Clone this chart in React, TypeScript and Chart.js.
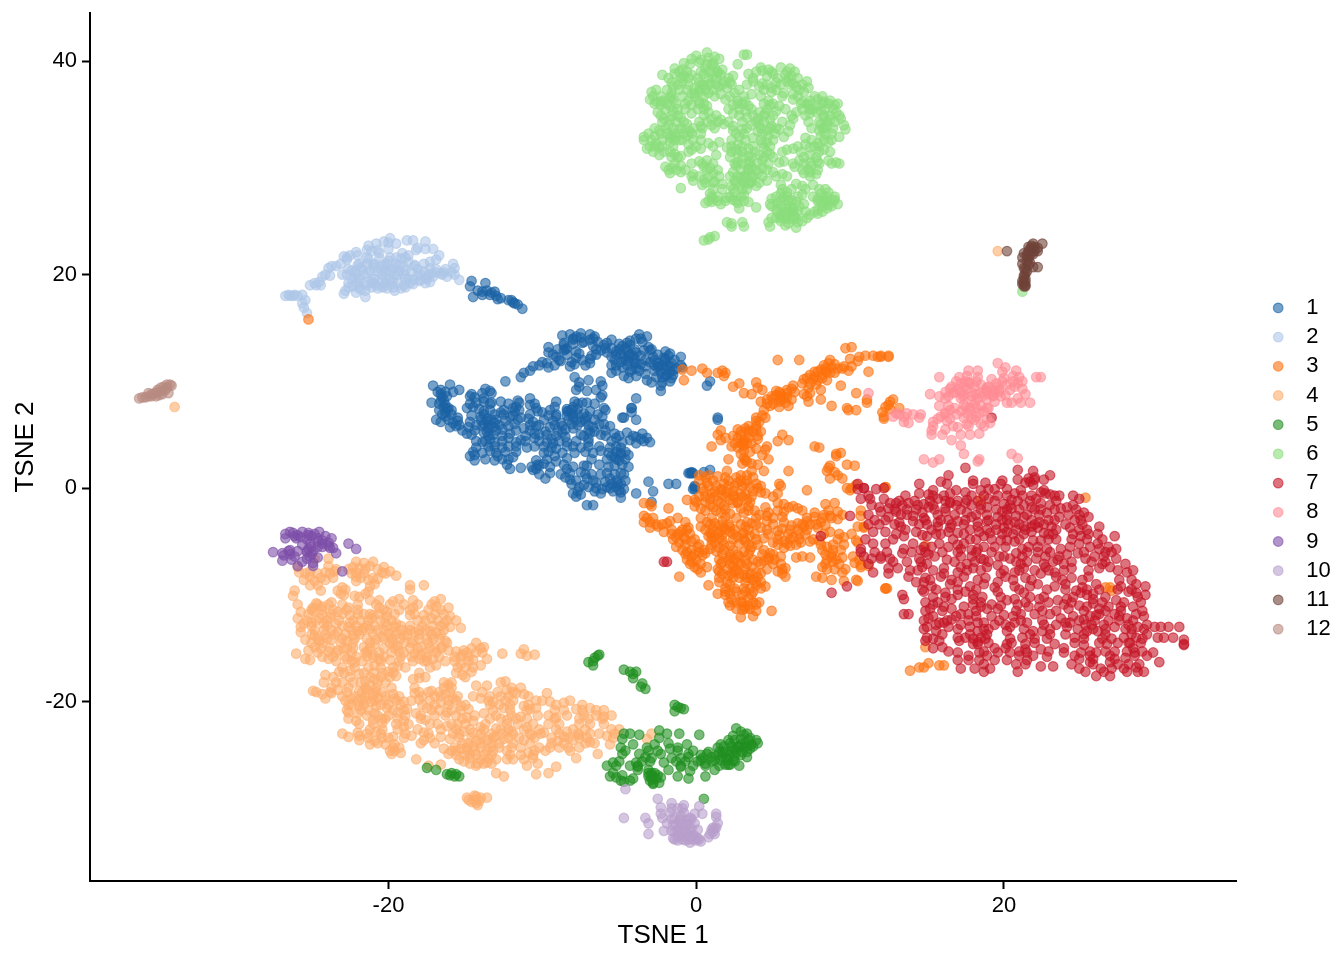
import { useEffect, useRef } from "react"
import { Chart, registerables } from "chart.js"

Chart.register(...registerables)

const clusterNames = ["1", "2", "3", "4", "5", "6", "7", "8", "9", "10", "11", "12"]
const clusterColors = ["27,98,165", "174,198,232", "253,113,14", "254,174,108", "31,143,31", "138,221,124", "197,21,39", "255,140,148", "125,79,168", "184,159,204", "111,66,56", "184,139,128"]

const c1 = [[-8.7,14.3],[-8.2,14.4],[-7.8,14.2],[-7.5,14.5],[-6.9,14.4],[-6.6,14.2],[-3.7,14.4],[-3.2,14.2],[-8,13.9],[-7.3,13.7],[-6.7,14],[-5.5,13.9],[-4.3,13.8],[-3.9,14],[-9.6,13.2],[-8.6,13.4],[-8.4,13.1],[-6.7,13.3],[-6,13.4],[-5.5,13.1],[-4.8,13.3],[-4.3,13.4],[-3.1,13.2],[-9.6,12.7],[-8.6,12.9],[-7.8,12.8],[-6.2,12.9],[-5.8,12.7],[-5.2,12.8],[-4.5,12.9],[-3.9,12.7],[-3,12.9],[-2,12.8],[-1.7,12.6],[-9.1,12.3],[-7.8,12.2],[-6.8,12.4],[-5.5,12.3],[-4.7,12.2],[-4.1,12.4],[-2.8,12.3],[-2.1,12.2],[-1,12.3],[-10,11.8],[-9.7,11.7],[-8.8,11.9],[-8.1,11.8],[-6.9,11.7],[-4.9,11.8],[-4.4,11.9],[-3.9,11.7],[-3,11.8],[-2.5,11.7],[-2,11.9],[-1.6,11.7],[-10.6,11.4],[-9.6,11.3],[-8.2,11.4],[-5.5,11.5],[-4.8,11.3],[-3.9,11.2],[-3.3,11.4],[-2.5,11.3],[-1.9,11.4],[-1.3,11.2],[-0.9,11.3],[-11.2,10.8],[-5.5,10.8],[-4.3,10.9],[-3.3,10.7],[-2.3,10.8],[-1.7,10.9],[-11.4,10.4],[-7.9,10.4],[-4.4,10.3],[-2.2,10.4],[-1.6,10.3],[-12.4,10],[-7,10.1],[-7.6,9.9],[-6.2,10],[-3.2,10.1],[-1.7,10],[-17.1,9.6],[-16,9.7],[-6.1,9.6],[-7.6,9.5],[-2.3,9.6],[-16.6,9.2],[-15.4,9.2],[-13.7,9.3],[-7.8,9.2],[-7.1,9.1],[-6.5,9.2],[-15.8,9],[-2.3,9.1],[-16.6,8.8],[-14.6,8.8],[-13.3,8.9],[-6.1,8.7],[-14.7,8.6],[-6.2,8.5],[-3.9,8.4],[-10.8,8.4],[-17.2,8],[-16.6,8.2],[-13.8,8.1],[-13.3,8],[-12.7,8.1],[-11.6,8.2],[-10.5,7.9],[-9.1,8.1],[-7.9,8.1],[-7.1,8],[-16.4,7.6],[-16.1,7.5],[-14.9,7.5],[-14.5,7.6],[-11.9,7.5],[-11.7,7.6],[-10.4,7.5],[-9.2,7.6],[-8.4,7.4],[-8,7.6],[-6,7.5],[-4.2,7.5],[-16.3,7.1],[-13.8,7.2],[-12.7,7.1],[-11.8,7.2],[-10,7.1],[-8.4,7.2],[-7.3,7],[-16.3,6.7],[-15.5,6.6],[-14,6.7],[-12.1,6.7],[-11.4,6.6],[-9.6,6.8],[-9.1,6.7],[-8,6.6],[-6.1,6.7],[-4.7,6.6],[-3.9,6.4],[-16.6,6.2],[-15.8,6.1],[-14.7,6.2],[-13.6,6.3],[-13.1,6.1],[-10.6,6.2],[-8.8,6.1],[-7.5,6.2],[-7.2,6.3],[-6.3,6],[-16,5.7],[-15.6,5.8],[-14.8,5.7],[-13.9,5.8],[-13.2,5.7],[-12.2,5.8],[-11.2,5.6],[-10.4,5.8],[-9.5,5.7],[-8.7,5.8],[-8,5.6],[-6.7,5.7],[-5.6,5.8],[-14.9,5.1],[-14.6,5],[-13.8,5.2],[-13.2,5],[-12.1,5.1],[-10.5,5.1],[-9.7,5],[-8.7,5.2],[-7.5,5],[-6.9,5.2],[-6.2,5],[-5.3,5.1],[-4.5,5.2],[-4.1,4.9],[-3.5,5.1],[-13.4,4.6],[-12.2,4.7],[-11.4,4.5],[-10.5,4.7],[-9.4,4.6],[-7,4.6],[-5.2,4.7],[-3.6,4.6],[-3.2,4.7],[-13.9,4.3],[-11.7,4.3],[-9.3,4.2],[-8.4,4.3],[-4.8,4.3],[-3.9,4.2],[-3,4.3],[-14.3,3.8],[-13.5,3.9],[-12.6,3.8],[-11.7,3.9],[-11,3.8],[-9.9,3.9],[-9.4,3.8],[-8.4,3.9],[-7.5,3.8],[-6.3,3.9],[-5.6,3.8],[-14.5,3.4],[-13.4,3.5],[-11.7,3.4],[-9.9,3.3],[-7.2,3.4],[-6.2,3.5],[-5.2,3.4],[-14.7,3],[-14.4,3.1],[-12.9,3],[-11.9,2.9],[-9.2,3],[-5.5,3],[-4.4,3.1],[-14.4,2.6],[-13.1,2.6],[-12.6,2.7],[-10.4,2.6],[-9.1,2.5],[-5.2,2.7],[-12.3,2.2],[-10.3,2.2],[-9.9,2.3],[-8.6,2.2],[-7.3,2.1],[-6.3,2.2],[-4.8,2.2],[-12.1,1.8],[-11.4,1.9],[-10.6,1.7],[-10.4,1.8],[-8.4,1.8],[-9.5,1.4],[-8.2,1.4],[-7.5,1.5],[-6.8,1.3],[-5.8,1.4],[-4.7,1.3],[-9.8,0.9],[-8.5,1],[-8.2,0.8],[-7.1,0.9],[-5.6,0.9],[-8.1,0.4],[-7.3,0.3],[-6.5,0.5],[-5.5,0.4],[-4.9,0.4],[-6.1,-0.1],[-5.6,0],[-4.7,-0.1],[-8,-0.5],[-7.5,-0.6],[-6.2,-0.5],[-4.9,-0.4],[-3.9,-0.5],[-7.8,-0.8],[-4.9,-0.9],[-7.1,-1.6],[-6.7,-1.6],[-13.3,6.4],[-13.5,5.9],[-8,6.9],[-8.3,7.2],[-4.9,3.1],[-5.3,2.9],[-16.4,8.2],[-16.2,7.4],[-4,11.7],[-4.4,12.4],[-2.4,11.4],[-1.9,10.6],[-5.1,0.5],[-10.2,2.1],[-3.1,0.6],[-2.8,-0.3],[-1.8,0.4],[-1.3,0.4],[-0.5,1.4],[-0.3,1.4],[-0.1,0.1],[-0.1,-0.1],[-2.9,-1.3],[-4.8,6.6],[-4.2,7.5],[-4.2,7.1],[-14.6,19.4],[-14.7,18.9],[-14.5,17.9],[-13.7,19.2],[-14.2,18.5],[-13.9,18.4],[-13.6,18.5],[-13.3,18.3],[-13.1,18.4],[-13,18],[-12.9,17.7],[-12.7,17.8],[-13.4,18.1],[-13.9,18.1],[-12.2,17.6],[-12,17.6],[-11.8,17.3],[-11.6,17.2],[-11.3,16.8],[-11.9,17.4],[1.4,6.6],[1.4,6.4],[0.7,9.6],[0.9,10],[-0.4,1.4],[-0.3,1.5],[-0.2,1.4],[0.9,1.7],[0.5,1.5],[-0.1,0.2],[-0.2,-0.1],
  [-8,14],[-7.5,14.1],[-6.9,13.9],[-3.6,14],[-8.6,13.6],[-8,13.5],[-7.4,13.6],[-6.4,13.7],[-5.8,13.6],[-5,13.5],[-4.5,13.6],[-3.5,13.7],[-9,13],[-8.5,13],[-6.5,13],[-5.9,13.1],[-5,13],[-4.6,13.1],[-4,13],[-3.4,12.9],[-2.9,13],[-9.3,12.5],[-8.4,12.5],[-7.6,12.6],[-6.5,12.5],[-5.2,12.5],[-4.9,12.6],[-4.3,12.5],[-3.6,12.4],[-2.5,12.5],[-1.8,12.4],[-8.9,12],[-7.4,12],[-6.9,12.1],[-5.3,12],[-4.6,12],[-4,12.1],[-3.3,12],[-2.7,12],[-2,12.1],[-1.4,12],[-10.2,11.5],[-9.2,11.5],[-7.9,11.6],[-7.2,11.5],[-5.2,11.5],[-4.5,11.5],[-3.6,11.6],[-2.7,11.5],[-2.2,11.5],[-1.7,11.4],[-1,11.5],[-10.8,11],[-5.2,11],[-4.2,11.1],[-3.7,11],[-2.7,11],[-2,11.1],[-1.5,11],[-4.7,10.5],[-3.9,10.5],[-2.6,10.4],[-2,10.5],[-1.5,10.6],[-2.2,9.9],[-2.9,9.9],[-16.8,9],[-16.3,9],[-13.9,8.9],[-13.4,9.1],[-16.5,8.5],[-16.2,8.6],[-14.4,8.5],[-13.8,8.4],[-16.7,7.9],[-16.3,7.8],[-14.7,7.9],[-14.3,8],[-13.4,7.9],[-12.2,7.9],[-11.5,8],[-10.8,7.8],[-7.7,7.9],[-7.4,8],[-6.6,7.9],[-16.7,7.3],[-15.9,7.3],[-14.1,7.4],[-13.4,7.3],[-12.5,7.3],[-11.5,7.3],[-10.3,7.2],[-9.5,7.3],[-8.1,7.3],[-7.7,7.4],[-6.9,7.2],[-5.9,7.3],[-16.5,6.9],[-15.9,6.9],[-14.6,6.8],[-13.8,6.9],[-13.1,6.9],[-12.5,6.9],[-11.9,6.8],[-10.8,6.9],[-9.1,6.9],[-8.4,6.8],[-7.7,6.9],[-7.1,6.7],[-6.4,6.9],[-16.9,6.4],[-16.1,6.4],[-15.5,6.3],[-14,6.4],[-13.6,6.5],[-13,6.4],[-12.4,6.3],[-11.6,6.4],[-10.9,6.5],[-9.9,6.4],[-9.3,6.3],[-8.3,6.4],[-7.8,6.4],[-7.2,6.5],[-6.6,6.4],[-15.4,5.9],[-14.3,5.9],[-13.8,6],[-13.5,5.6],[-12.8,5.9],[-11.8,6],[-10.8,5.9],[-10.2,5.9],[-9.2,5.9],[-8.1,6],[-7.7,5.9],[-7,5.9],[-6,6],[-15.2,5.4],[-14.4,5.4],[-13.6,5.3],[-13,5.4],[-12.6,5.5],[-11.7,5.4],[-10.8,5.4],[-9.8,5.3],[-9,5.4],[-8.5,5.5],[-7,5.4],[-6.6,5.3],[-5.9,5.4],[-13.5,4.9],[-12.6,4.9],[-11.1,4.9],[-10.2,5],[-9.1,4.9],[-8.5,4.8],[-7.3,4.9],[-5.9,4.9],[-5,4.9],[-3.9,4.8],[-14.3,4.4],[-13.7,4.4],[-13.1,4.3],[-12.6,4.4],[-11.1,4.4],[-10.2,4.4],[-9.7,4.3],[-8.9,4.4],[-7.8,4.4],[-7,4.3],[-5.5,4.4],[-4.3,4.5],[-3.4,4.4],[-13.1,3.9],[-12.2,3.9],[-10.5,3.9],[-9.1,3.7],[-8,3.9],[-7,3.9],[-5.2,3.9],[-4.9,3.8],[-13.9,3.3],[-13,3.3],[-12.4,3.4],[-9.6,3.4],[-8.7,3.3],[-7.9,3.3],[-6.7,3.3],[-5.7,3.3],[-4.9,3.3],[-4.6,3.4],[-13.7,2.7],[-12.2,2.7],[-9.7,2.7],[-8.4,2.8],[-6.8,2.7],[-5.8,2.7],[-5,2.6],[-4.6,2.7],[-10.7,2],[-9.5,2],[-8,2],[-7.1,2.1],[-5.7,2],[-5.3,2.1],[-4.4,2],[-10.2,1.3],[-8.8,1.3],[-7.2,1.3],[-6.2,1.3],[-5.3,1.3],[-4.9,1.4],[-7.8,0.7],[-6.7,0.7],[-5.9,0.6],[-5.2,0.7],[-4.6,0.7],[-7.6,0.1],[-7,0.1],[-6.5,0],[-5.8,0.1],[-5.2,0.1],[-7.7,-0.3],[-6.6,-0.3],[-5.4,-0.3],[-5,-0.2]]
const c2 = [[-26.7,18],[-26.4,18],[-26.1,18.1],[-25.6,18.1],[-26.2,18],[-25.6,17.3],[-25.5,16.9],[-25.3,16.4],[-25.1,19],[-24.8,19.2],[-24.4,19],[-24.7,19],[-24.3,19.8],[-23.8,19.9],[-23.9,20.6],[-23.7,20.8],[-23.1,21],[-22.9,21.7],[-22.5,21.8],[-22.1,22.1],[-22,21.8],[-22.7,21.4],[-21.3,22.7],[-20.8,22.9],[-20.3,23.1],[-19.9,23.4],[-19.5,22.9],[-20,23],[-18.8,23.2],[-18.4,23.2],[-17.6,23.1],[-18.1,22.5],[-17.6,22.4],[-17.1,22.4],[-16.7,21.8],[-16.9,21.4],[-17.3,21.2],[-17.3,20.6],[-15.8,21],[-15.7,20.6],[-22.8,18.5],[-22.9,18.2],[-22.1,18.3],[-21.5,17.9],[-21.5,18.5],[-20.7,18.7],[-20.1,18.7],[-19.6,18.5],[-19.2,18.7],[-18.4,19.1],[-17.3,19.3],[-16.2,19.8],[-15.4,19.5],[-15.9,20.2],[-16.4,20.2],[-22.7,20],[-22.4,20.4],[-22.2,19.7],[-22,19.2],[-21.8,20.7],[-21.6,20],[-21.4,19],[-21.3,21.4],[-21.2,20.4],[-21,19.6],[-20.9,21],[-20.7,20.3],[-20.6,21.5],[-20.4,19.5],[-20.2,20.8],[-20,21.3],[-19.9,20.2],[-19.7,19.4],[-19.5,21],[-19.4,20],[-19.2,21.5],[-19,20.7],[-18.9,19.6],[-18.7,21.2],[-18.5,20.2],[-18.3,20.8],[-18.1,19.9],[-17.9,19.5],[-17.7,20.3],[-17.4,20],[-17.1,19.8],[-16.9,20.2],[-16.6,20.1],[-22.3,18.9],[-21.8,18.6],[-20.8,19],[-20.3,18.9],[-19.8,19.1],[-19,19],[-18,19.4],[-20.6,22],[-21.1,22.2],[-19.1,22],[-18.7,21.8],[-20.2,20.4],[-20.4,20.9],[-19.6,20.6],[-19.3,20.3],[-21.4,21],[-22,20.9],[-22.2,20.3],[-21.1,19.3],[-17.6,19.7],[-19.9,19.6],
  [-21.4,21.6],[-19.9,21.6],[-19.5,21.6],[-18.9,21.6],[-21.9,21],[-21,20.9],[-20.1,21],[-19.3,20.9],[-18.3,20.9],[-17.7,21],[-22.6,20.5],[-21.7,20.5],[-20.9,20.6],[-20.5,20.5],[-19.8,20.5],[-18.9,20.4],[-18.1,20.5],[-16.9,20.5],[-16.3,20.5],[-23,20],[-22.1,20],[-21.4,20.1],[-20.4,20],[-19.6,20],[-19,20],[-17.9,20],[-17.2,20.1],[-16.5,20],[-15.7,20],[-22.4,19.6],[-21.9,19.6],[-20.9,19.6],[-20.2,19.7],[-18.7,19.6],[-18.4,19.5],[-17.5,19.6],[-22.6,19.2],[-21.6,19.2],[-21,19.2],[-20.2,19.2],[-19.4,19.2],[-18.6,19.2],[-17.6,19.2],[-22.6,18.8],[-21.9,18.8],[-21.1,18.8],[-20.4,18.8],[-19.7,18.8],[-18.9,18.8],[-21.4,22.3],[-20.7,22.3],[-20,22.4],[-18.2,22.3],[-24.5,19.3],[-24.1,20],[-23.4,20.8],[-22.7,21.6],[-26.5,18.1],[-25.9,18],[-25.4,17.6]]
const c3 = [[9.7,13.1],[10.1,13.2],[11.8,12.3],[12.5,12.4],[11,12.4],[10.6,12.3],[12,12.3],[11.5,12.4],[5.3,12],[6.7,12],[10,12.1],[10.5,11.9],[8.7,12],[8.3,11.5],[9,11.6],[9.6,11.4],[8.6,11.7],[-0.9,11.1],[-0.3,11],[0.4,11.2],[8.1,11.1],[9.2,11.2],[9.9,11],[0.7,10.8],[1.4,10.8],[1.7,11],[1.9,10.8],[7.7,10.9],[8.7,10.8],[11.2,10.9],[1.8,10.5],[7.4,10.6],[8.2,10.6],[8.5,10.9],[-0.8,10.1],[7,10.2],[7.9,10.1],[8.5,10.1],[7.7,10.4],[2.8,9.8],[3.9,9.9],[2.4,9.5],[4,9.4],[6.3,9.6],[7.3,9.4],[9.4,9.6],[4.3,9.2],[5.2,9.1],[6.2,9.3],[8.1,9.2],[3.1,8.9],[3.6,8.8],[5.5,8.8],[5.9,8.9],[7,8.8],[7.4,8.9],[10.4,8.9],[5,8.4],[5.7,8.5],[6.2,8.3],[8.1,8.3],[11.1,8.3],[4.2,8.1],[5.4,8.1],[7.3,8.1],[11.1,8],[4.8,7.7],[5.4,7.6],[8.8,7.7],[6,7.7],[4.4,7.3],[9.9,7.3],[10.4,7.3],[9.8,7.5],[4.3,6.8],[4.1,6.2],[3.9,6.3],[2.7,5.5],[3.2,5.6],[1.6,5.4],[3.9,5.5],[3.4,5.4],[1.4,5],[2.4,4.9],[2.9,5],[4,4.9],[5.6,5],[1.6,4.5],[3.1,4.5],[6,4.5],[5.3,4.4],[1,3.9],[2.3,3.9],[2.7,3.8],[3.1,4],[4.6,3.9],[7.7,3.9],[8,3.8],[3.9,3.7],[4.5,3.6],[2.9,3.2],[4.3,3.1],[9.1,3.2],[9.4,3.3],[9.1,3],[2.1,2.7],[3.1,2.8],[4.7,2.7],[3,2.3],[3.6,2.3],[4,2.2],[8.7,2.1],[9.8,2.2],[10.3,2.1],[2,1.6],[3.6,1.6],[4.4,1.6],[6,1.6],[8.5,1.6],[9,1.5],[8.6,1.9],[0.2,1.2],[0.8,1.2],[1.4,1.1],[2.9,1.2],[3.3,1.2],[9.2,1.2],[8.7,0.9],[9.5,0.9],[0.7,0.5],[1.8,0.4],[2.7,0.5],[3.2,0.4],[3.9,0.4],[5.4,0.4],[5.5,0.2],[0.4,0],[1.6,-0.1],[4,0],[10,-0.2],[9.8,0],[12.3,0.1],[1,-0.5],[2,-0.4],[2.9,-0.5],[3.2,-0.6],[4.5,-0.5],[4.2,-0.4],[5.3,-0.5],[7.2,-0.2],[-0.6,-1.1],[-0.1,-1.1],[0.9,-1],[1.4,-1.2],[2.2,-1.1],[3.3,-1.1],[-3.4,-1.4],[-3,-1.5],[5.3,-1.4],[5.7,-1.5],[2.4,-1.4],[8.4,-1.5],[9,-1.4],[-1.8,-1.9],[0.3,-1.9],[1.1,-1.8],[2.9,-1.9],[4.5,-1.8],[6.6,-1.9],[6,-1.8],[1.6,-2.3],[2.2,-2.4],[3.1,-2.3],[4.7,-2.3],[5.7,-2.2],[7.7,-2.3],[-3.4,-2.6],[4.1,-2.5],[4.6,-2.6],[8.3,-2.5],[8.7,-2.6],[9.5,-2.5],[10.7,-2.6],[-3.4,-3.2],[-3,-3.2],[-1.9,-3.3],[-1.7,-3.1],[-0.7,-3.2],[0.7,-3.2],[1.2,-3.3],[1.7,-3.1],[3.3,-3.2],[3.6,-3.3],[4.6,-3.1],[5.7,-3.2],[6.6,-3.3],[7.2,-3.1],[8.1,-3.2],[-3,-3.7],[-2.5,-3.6],[-0.5,-3.7],[0.3,-3.6],[1.8,-3.7],[2.2,-3.6],[4.2,-3.7],[7,-3.6],[7.9,-3.7],[10.5,-3.6],[10.9,-3.7],[-2.1,-4.1],[-1,-4.1],[0.9,-4.2],[1.6,-4],[2.2,-4.1],[3.1,-4.2],[5.3,-4],[8.7,-4.1],[-1.3,-4.6],[-0.8,-4.6],[0.8,-4.5],[1.5,-4.7],[2.7,-4.6],[3.5,-4.5],[4.4,-4.7],[6.3,-4.6],[9.6,-4.6],[-1.1,-5.1],[-0.3,-5],[1.2,-5.1],[3.2,-5],[5,-5.1],[5.7,-5],[6.8,-5.1],[7.4,-5],[10.5,-5.1],[-1.3,-5.5],[0.1,-5.5],[1.5,-5.6],[2.2,-5.4],[3.6,-5.5],[5.7,-5.6],[6.1,-5.4],[8.5,-5.5],[-0.6,-6],[0.2,-6],[0.6,-6.1],[1.3,-5.9],[3.1,-6],[4.8,-6.1],[-0.3,-6.4],[2.2,-6.5],[2.8,-6.4],[4.7,-6.5],[5.5,-6.4],[6.5,-6.5],[6.9,-6.4],[7.4,-6.5],[8.8,-6.4],[9.5,-6.5],[-0.3,-6.9],[1.7,-6.9],[2.7,-7],[4,-6.9],[4.4,-6.8],[8.9,-6.9],[10.3,-7],[-0.1,-7.4],[0.7,-7.4],[2.4,-7.3],[3.6,-7.4],[5.8,-7.5],[8.2,-7.4],[10.7,-7.4],[11.2,-7.3],[0.3,-7.9],[1.5,-7.8],[3.9,-7.9],[5.3,-7.8],[9.5,-7.9],[-1.1,-8.3],[1.5,-8.4],[2.1,-8.2],[4,-8.3],[5.8,-8.3],[7.8,-8.3],[8.2,-8.4],[3.7,-8.6],[10.5,-8.7],[8.8,-8.6],[9.6,-8.7],[0.8,-9.1],[2.2,-9],[3.9,-9.1],[4.5,-9.2],[1.4,-9.9],[2.2,-9.9],[2.3,-10.4],[3.4,-10.3],[2.2,-11],[3.1,-11.1],[3.9,-10.9],[3,-11.4],[4.9,-11.5],[3.9,-11.5],[2.9,-12.1],[3.7,-12],[2.6,-10.7],[2.9,-10.6],[3.4,-11],[2.5,-7.8],[3.1,-8.1],[1.4,-4.2],[1.1,-4.6],[3.2,-3.6],[1.7,-0.6],[2.5,-0.8],[2.7,-1.4],[3.1,4.4],[2.9,4.2],[12.4,-9.4],[12.3,-9.4],[12.5,7.8],[12.8,8.3],[12.1,7.1],[12.2,6.7],[12.6,8.1],[12.3,7.6],[13.2,7.5],[12.2,6.5],[12.6,7.4],[12,12.4],[12.5,12.3],[13.9,-17.1],[14.5,-16.8],[14.8,-16.8],[15.1,-16.4],[15.8,-16.6],[16.1,-16.6],[14.9,-5.4],[14.9,-14.9],[18.5,-1.1],[25.3,-0.9],[26.6,-9.3],[26.9,-9.3],[27,-9.6],[12.3,0.1],[12.3,-9.4],[10.4,-8.6],[10.7,-2.1],[10.9,-3.6],[10.1,-4.3],[10.4,-4.9],[10.2,-6.4],[10.7,-7.2],[10.4,0.3],[10.1,0],[-25.2,15.8],
  [8.4,11.2],[8.8,11.3],[9.5,11.2],[10.1,11.4],[7.9,10.9],[8.4,10.9],[9,10.8],[7.2,10.3],[7.6,10.2],[8.2,10.3],[6.9,9.8],[7.4,9.8],[7.8,9.7],[5.4,9],[5.9,9.2],[6.4,9],[4.9,8.6],[5.2,8.7],[5.5,8.5],[5.9,8.5],[7.2,8.6],[4.6,7.9],[5,7.9],[5.8,8],[4.6,8.3],[5.5,8.3],[3.9,6.6],[4.5,6.6],[3.9,5.8],[3.4,5.8],[2.9,5.3],[3.4,5.2],[3.7,5.3],[4.2,5.3],[1.9,4.7],[2.7,4.7],[3.4,4.7],[4,4.6],[2.5,4.2],[3,4.1],[3.3,4.2],[3.6,4.2],[3.1,3.5],[3.5,3.4],[3.3,2.5],[3.2,2.6],[0.6,1],[1.9,1],[2.6,1],[3.7,1],[0.2,0.7],[1.1,0.7],[2.1,0.7],[2.9,0.7],[3.3,0.7],[0.8,0.2],[1.3,0.2],[2.1,0.2],[2.5,0.2],[3,0.2],[3.5,0.1],[4.2,0.2],[0.5,-0.3],[1.2,-0.3],[1.7,-0.2],[2.4,-0.3],[3.7,-0.3],[0.2,-0.8],[0.6,-0.8],[1.2,-0.8],[1.9,-0.8],[2.4,-0.7],[3,-0.8],[3.6,-0.8],[5,-0.8],[0,-1.3],[0.6,-1.3],[1.6,-1.4],[2.7,-1.3],[3.5,-1.3],[-2.9,-1.7],[-0.1,-1.7],[0.9,-1.6],[1.8,-1.7],[3.4,-1.7],[6.3,-1.7],[0.6,-2.1],[1.3,-2.1],[1.9,-2],[3.4,-2.1],[3.8,-2.1],[5.3,-2.1],[6.9,-2.1],[8.6,-2.1],[9.2,-2.2],[-3.2,-2.8],[-2.8,-2.8],[-1.2,-2.8],[0.3,-2.8],[1,-2.8],[1.9,-2.7],[2.6,-2.8],[3.9,-2.8],[5,-2.8],[5.6,-2.7],[7.2,-2.8],[7.7,-2.7],[8.2,-2.8],[8.8,-2.8],[9.2,-2.9],[-2.6,-3.4],[-2.2,-3.4],[0.9,-3.4],[1.5,-3.5],[2.1,-3.4],[2.9,-3.4],[3.9,-3.4],[5,-3.4],[6.2,-3.5],[6.9,-3.4],[7.4,-3.4],[7.8,-3.4],[8.4,-3.5],[-1.6,-3.9],[-0.9,-3.9],[-0.6,-3.9],[0.6,-3.9],[1.1,-3.8],[1.9,-3.9],[2.5,-3.9],[3.4,-3.9],[4.6,-3.9],[5.6,-3.8],[6.1,-3.9],[6.6,-3.9],[7.2,-3.9],[-1.6,-4.3],[-1.2,-4.3],[-0.4,-4.3],[1,-4.3],[1.7,-4.4],[2.4,-4.3],[3,-4.3],[3.8,-4.3],[4.7,-4.3],[5.4,-4.4],[6,-4.3],[6.7,-4.3],[7.1,-4.3],[8.3,-4.3],[9.3,-4.3],[-1.5,-4.8],[-0.7,-4.8],[-0.1,-4.8],[1,-4.8],[1.7,-4.9],[2.4,-4.8],[3.1,-4.8],[3.9,-4.8],[5.3,-4.8],[6.1,-4.8],[6.7,-4.8],[7.6,-4.8],[8,-4.9],[9.2,-4.8],[-0.7,-5.3],[0.2,-5.3],[1,-5.3],[1.8,-5.3],[2.8,-5.2],[3.4,-5.3],[4,-5.3],[5.3,-5.3],[5.9,-5.2],[6.5,-5.3],[8.1,-5.3],[8.9,-5.3],[9.6,-5.3],[-0.9,-5.8],[-0.3,-5.8],[0.5,-5.8],[0.9,-5.7],[1.8,-5.8],[2.4,-5.8],[3.5,-5.8],[4.4,-5.8],[8.2,-5.8],[8.9,-5.8],[9.4,-5.8],[-0.7,-6.2],[-0.1,-6.2],[0.4,-6.3],[1.7,-6.2],[2.2,-6.2],[2.7,-6.2],[3.4,-6.2],[4.3,-6.2],[5,-6.2],[8.4,-6.2],[8.8,-6.2],[-0.6,-6.7],[0,-6.7],[1.5,-6.7],[2.1,-6.7],[2.5,-6.7],[3.2,-6.7],[3.7,-6.7],[4.7,-6.7],[5.1,-6.7],[8.5,-6.7],[9.1,-6.7],[10.6,-6.7],[-0.4,-7.1],[0.3,-7.1],[1.6,-7.1],[2.2,-7.1],[2.9,-7.1],[3.3,-7.1],[4.2,-7.1],[5,-7.1],[5.5,-7.1],[8.4,-7.1],[9.3,-7.1],[0.1,-7.6],[1.4,-7.6],[2,-7.6],[2.6,-7.6],[3.2,-7.6],[4.6,-7.6],[5.6,-7.6],[8.5,-7.6],[9,-7.6],[9.7,-7.6],[1.7,-8],[2.3,-8],[2.8,-8],[3.5,-8],[4.2,-8],[5.6,-8],[2.4,-8.4],[2.8,-8.4],[3.3,-8.4],[3.5,-8.4],[1.5,-8.8],[2,-8.8],[3.2,-8.8],[3.9,-8.8],[4.2,-8.8],[1.9,-9.4],[2.5,-9.4],[3.1,-9.4],[3.5,-9.4],[4.2,-9.4],[1.9,-9.7],[2.6,-9.7],[3.2,-9.7],[3.7,-9.7],[1.9,-10],[3,-10],[3.6,-10],[2.1,-10.7],[3,-10.7],[3.7,-10.7],[4.1,-10.7],[2.6,-11.3],[3.2,-11.3],[3.5,-11.3]]
const c4 = [[-24.8,-6.6],[-23.9,-6.6],[-22.1,-6.9],[-21.6,-7],[-21,-6.9],[-25.9,-7.4],[-23.9,-7.3],[-22.3,-7.4],[-21.9,-7.5],[-21.2,-7.3],[-20.3,-7.4],[-25.8,-7.9],[-25.1,-7.8],[-24.1,-7.9],[-23.5,-7.8],[-22.1,-7.9],[-20.4,-7.9],[-19.9,-7.8],[-19.5,-8.2],[-25.1,-8.3],[-22.1,-8.3],[-25.5,-8.6],[-24.8,-8.7],[-24.1,-8.6],[-22.1,-8.7],[-21.3,-8.6],[-20.7,-8.5],[-25.1,-9.1],[-24.6,-9.1],[-20.9,-9],[-18.6,-9.1],[-17.7,-9.1],[-21.2,-9.2],[-26.1,-9.6],[-24.4,-9.6],[-23.3,-9.6],[-22.8,-9.5],[-21.3,-9.7],[-18.6,-9.5],[-26.2,-10.1],[-22.9,-10],[-22.2,-10.1],[-21.9,-10.2],[-21.2,-10.5],[-20.6,-10.5],[-19.3,-10.4],[-19.7,-10.6],[-18.4,-10.5],[-16.6,-10.4],[-17,-10.6],[-24.7,-10.8],[-23.7,-10.7],[-25.9,-10.9],[-24.9,-11.2],[-24.3,-11.1],[-20.6,-11.2],[-18.4,-11.2],[-16.9,-11.1],[-16.1,-11.2],[-25.7,-11.6],[-24.9,-11.5],[-23.3,-11.6],[-20.1,-11.6],[-22.5,-11.9],[-22,-11.8],[-21,-11.9],[-20.1,-12],[-18.6,-11.9],[-17.7,-11.9],[-16,-12],[-25.9,-12.2],[-24.5,-12.2],[-23.8,-12.1],[-21.1,-12.2],[-17.2,-12.2],[-25.5,-12.7],[-25,-12.6],[-24.2,-12.7],[-23.4,-12.7],[-22.5,-12.6],[-19.5,-12.7],[-20.2,-12.6],[-16.4,-12.7],[-25.7,-13],[-22.6,-13],[-21.6,-13.1],[-19.6,-13],[-16,-13],[-15.3,-13.1],[-25.7,-13.5],[-23.3,-13.5],[-22,-13.4],[-19.7,-13.5],[-20,-13.6],[-18.3,-13.5],[-17.3,-13.4],[-16.9,-13.5],[-24.8,-13.8],[-22.3,-13.8],[-20.4,-13.9],[-19,-13.8],[-25.4,-14.2],[-24.5,-14.3],[-23.7,-14.2],[-22.7,-14.3],[-20.8,-14.2],[-18.4,-14.3],[-17.5,-14.2],[-16.3,-14.3],[-20.9,-14.6],[-19.9,-14.5],[-14.3,-14.5],[-24.8,-14.9],[-22.7,-15],[-21.6,-14.9],[-17.9,-14.9],[-17,-15],[-13.8,-14.9],[-25.2,-15.2],[-23.9,-15.3],[-23.3,-15.2],[-19.3,-15.3],[-16.1,-15.2],[-15.6,-15.3],[-15.1,-15.2],[-11.2,-15.1],[-26,-15.5],[-21,-15.6],[-18.3,-15.5],[-15.2,-15.6],[-12.6,-15.5],[-11.4,-15.5],[-10.5,-15.6],[-11,-15.7],[-25.4,-16],[-25.1,-16.1],[-23.9,-16],[-22.7,-16],[-21,-15.9],[-19.9,-16.1],[-18,-16],[-17.1,-16],[-13.6,-16],[-14.5,-16.1],[-22.2,-16.3],[-20.9,-16.6],[-19.4,-16.7],[-16.9,-16.6],[-15.3,-16.5],[-14,-16.6],[-23.2,-17.2],[-22.5,-17.1],[-20,-17.2],[-18,-17.3],[-14.6,-17.2],[-24.1,-17.5],[-21.9,-17.4],[-19.5,-17.6],[-15.2,-17.5],[-18.4,-17.9],[-18,-17.8],[-20.9,-17.9],[-23.4,-18.2],[-21.5,-18.1],[-12.4,-18.1],[-12.7,-18.2],[-21.2,-18.5],[-16.1,-18.4],[-14.3,-18.5],[-13.6,-18.5],[-24.9,-19],[-23.3,-18.9],[-21.9,-19],[-21.4,-18.9],[-17.2,-19],[-12.3,-18.9],[-24.3,-19.3],[-23.7,-19.2],[-21,-19.2],[-19.7,-19.3],[-18.3,-19.2],[-16.3,-19.3],[-11.7,-19.2],[-11.2,-19.3],[-9.7,-19.2],[-24.1,-19.7],[-22.4,-19.7],[-21.7,-19.8],[-20.7,-19.6],[-19.6,-19.7],[-18,-19.8],[-15.8,-19.7],[-14,-19.7],[-19,-20],[-16.6,-20.1],[-13.2,-20],[-11.9,-19.9],[-9.5,-20],[-8.6,-20.1],[-8.2,-19.9],[-22.4,-20.3],[-20.8,-20.4],[-15.3,-20.4],[-13.4,-20.3],[-11.2,-20.4],[-20.1,-20.6],[-18.8,-20.7],[-17.5,-20.6],[-14.8,-20.7],[-12.5,-20.6],[-10.8,-20.7],[-10.4,-20.6],[-7.8,-20.7],[-6.9,-20.6],[-22.6,-21],[-22,-21.1],[-19.4,-21],[-18.2,-21.1],[-16.2,-21],[-13.8,-21.1],[-6,-21.4],[-9.1,-21.5],[-11.4,-21.4],[-14.9,-21.5],[-22.1,-21.8],[-21,-21.7],[-19,-21.8],[-17.6,-21.7],[-14.5,-21.8],[-12.3,-21.7],[-20.4,-22],[-15.5,-22.1],[-19,-22.4],[-16.2,-22.3],[-14,-22.4],[-13,-22.5],[-11,-22.4],[-22,-22.9],[-20.8,-22.8],[-17.7,-22.9],[-15.1,-22.8],[-14.5,-22.9],[-12,-22.8],[-9.9,-22.9],[-8.4,-22.8],[-22.6,-23.3],[-21.9,-23.2],[-19.7,-23.3],[-18.5,-23.2],[-16.6,-23.3],[-5.8,-23.2],[-21.9,-23.6],[-20.9,-23.7],[-17.7,-23.6],[-16,-23.5],[-14.3,-23.7],[-13.6,-23.6],[-12.5,-23.5],[-11.2,-23.6],[-9,-23.7],[-8,-23.6],[-21.2,-24],[-20.7,-23.9],[-20.2,-24],[-19.6,-24],[-6.6,-23.9],[-5.6,-24],[-16.4,-24.4],[-15.3,-24.4],[-10.2,-24.3],[-19.8,-24.9],[-19.2,-24.8],[-16.1,-24.9],[-14.7,-24.9],[-14.3,-25],[-10.9,-24.8],[-6.4,-24.9],[-18.2,-25.4],[-14.7,-25.3],[-11.9,-25.4],[-10.6,-25.3],[-7.8,-25.3],[-15.1,-25.6],[-13.6,-25.7],[-17.4,-26],[-16.6,-25.9],[-14.3,-26],[-11,-26],[-9.1,-26.1],[-13,-26.7],[-10.4,-26.8],[-9.6,-26.7],[-12.5,-27],[-14.9,-29],[-14.3,-28.9],[-13.6,-29],[-14.6,-29.4],[-14.3,-29.5],[-14.2,-29.7],[-33.9,7.6],[19.6,22.2],[-2.9,-23],[-3.2,-23.5],[-14.4,-29.2],[-14.1,-29.3],[-23,-9.3],[-22.6,-11.2],[-21.2,-13.2],[-19.4,-14.8],[-21.4,-15.3],[-20.6,-16],[-21.1,-20],[-21.9,-20.4],[-13.1,-23.3],[-14,-23.9],[-13.6,-24.6],[-14.5,-24.2],[-8.6,-23.3],[-7.6,-23.1],[-6.9,-23.8],[-10.8,-23],[-20.4,-21.6],[-20.9,-21.1],[-16.5,-14.9],[-17.9,-15.6],[-17.5,-16.2],
  [-23.4,-7.6],[-22.6,-7.6],[-21.5,-7.6],[-20.7,-7.6],[-25.4,-8],[-24.6,-8],[-23.8,-8],[-22.4,-8],[-21.6,-8],[-20.2,-8],[-24.4,-8.4],[-23.6,-8.4],[-21.8,-8.4],[-21,-8.4],[-23.1,-9.9],[-21.5,-9.9],[-24.6,-10.9],[-23.9,-10.9],[-23,-10.9],[-22,-10.9],[-20.8,-10.9],[-19.9,-10.9],[-19,-10.9],[-18.1,-10.9],[-17.2,-10.9],[-25,-11.4],[-24.3,-11.4],[-23.6,-11.4],[-22.7,-11.4],[-22,-11.4],[-20.3,-11.4],[-19.3,-11.4],[-18.6,-11.4],[-17.4,-11.4],[-16.6,-11.4],[-25.2,-11.8],[-24.3,-11.8],[-23.7,-11.8],[-23,-11.8],[-21.6,-11.8],[-21.2,-11.8],[-20.6,-11.8],[-19.6,-11.8],[-18.3,-11.8],[-17,-11.8],[-16.4,-11.8],[-25.3,-12.4],[-24.7,-12.4],[-24,-12.4],[-23.2,-12.4],[-22.3,-12.4],[-21.8,-12.4],[-21.3,-12.4],[-20.5,-12.4],[-19.8,-12.4],[-18.1,-12.4],[-17.6,-12.4],[-16.8,-12.4],[-16.2,-12.4],[-15.6,-12.4],[-25,-12.9],[-24,-12.9],[-23,-12.9],[-22.1,-12.9],[-21.4,-12.9],[-20.9,-12.9],[-20.1,-12.9],[-19.2,-12.9],[-18.6,-12.9],[-17.8,-12.9],[-17.1,-12.9],[-16.6,-12.9],[-24.8,-13.3],[-24.2,-13.3],[-23.7,-13.3],[-22.4,-13.3],[-21.7,-13.3],[-20.7,-13.3],[-20.3,-13.3],[-19.1,-13.3],[-18.6,-13.3],[-18,-13.3],[-17.6,-13.3],[-16.4,-13.3],[-25,-13.7],[-24.1,-13.7],[-23.5,-13.7],[-22.8,-13.7],[-21.9,-13.7],[-21,-13.7],[-19.5,-13.7],[-18.8,-13.7],[-18,-13.7],[-17.2,-13.7],[-16.6,-13.7],[-24.6,-14.1],[-24,-14.1],[-23,-14.1],[-22.2,-14.1],[-21.4,-14.1],[-20.3,-14.1],[-19.8,-14.1],[-19.2,-14.1],[-18,-14.1],[-17.1,-14.1],[-16.7,-14.1],[-25,-14.5],[-24.3,-14.5],[-23.1,-14.5],[-22.3,-14.5],[-21.2,-14.5],[-19.7,-14.5],[-19,-14.5],[-18.5,-14.5],[-17.4,-14.5],[-16.2,-14.5],[-24.4,-15],[-23.8,-15],[-22.9,-15],[-22.3,-15],[-21.2,-15],[-20.3,-15],[-19.6,-15],[-18.6,-15],[-18.1,-15],[-17.3,-15],[-16.6,-15],[-14.6,-15],[-14,-15],[-24.6,-15.4],[-23.4,-15.4],[-22.4,-15.4],[-21.5,-15.4],[-20.6,-15.4],[-19.8,-15.4],[-19,-15.4],[-17.6,-15.4],[-16.9,-15.4],[-14.9,-15.4],[-14.3,-15.4],[-13.9,-15.4],[-24.3,-15.8],[-23.6,-15.8],[-22.8,-15.8],[-22.1,-15.8],[-21.4,-15.8],[-20.3,-15.8],[-19.2,-15.8],[-18.5,-15.8],[-17.5,-15.8],[-16.7,-15.8],[-15.7,-15.8],[-15.3,-15.8],[-14.8,-15.8],[-23.4,-16.2],[-22.4,-16.2],[-21.7,-16.2],[-20.5,-16.2],[-19.3,-16.2],[-18.4,-16.2],[-17.7,-16.2],[-16.3,-16.2],[-15.7,-16.2],[-14.8,-16.2],[-23,-16.8],[-22.2,-16.8],[-21.3,-16.8],[-20.5,-16.8],[-19.7,-16.8],[-18.9,-16.8],[-17.3,-16.8],[-15.5,-16.8],[-15,-16.8],[-14.5,-16.8],[-22.9,-17.3],[-21.6,-17.3],[-21,-17.3],[-20.4,-17.3],[-19.7,-17.3],[-15.6,-17.3],[-23.6,-17.7],[-22.5,-17.7],[-21.2,-17.7],[-20.5,-17.7],[-19.9,-17.7],[-17.6,-17.7],[-15,-17.7],[-24.2,-18.2],[-23,-18.2],[-22.3,-18.2],[-21.8,-18.2],[-20.7,-18.2],[-20.2,-18.2],[-16.4,-18.2],[-15.9,-18.2],[-23.7,-18.7],[-22.6,-18.7],[-21.5,-18.7],[-20.8,-18.7],[-19.8,-18.7],[-18.3,-18.7],[-16.4,-18.7],[-15.9,-18.7],[-12,-18.7],[-11.4,-18.7],[-24.7,-19.1],[-23.8,-19.1],[-22.7,-19.1],[-21.7,-19.1],[-20.8,-19.1],[-20.4,-19.1],[-18,-19.1],[-17.4,-19.1],[-16.7,-19.1],[-16,-19.1],[-13.9,-19.1],[-12.9,-19.1],[-11.9,-19.1],[-23,-19.5],[-22.2,-19.5],[-21.5,-19.5],[-21,-19.5],[-20.2,-19.5],[-19.3,-19.5],[-17.8,-19.5],[-17,-19.5],[-16.6,-19.5],[-15.5,-19.5],[-14.5,-19.5],[-13.4,-19.5],[-12.7,-19.5],[-12.2,-19.5],[-10.9,-19.5],[-22.8,-19.9],[-22,-19.9],[-21.5,-19.9],[-20.9,-19.9],[-20.2,-19.9],[-19.5,-19.9],[-18.5,-19.9],[-17.3,-19.9],[-16.1,-19.9],[-15.6,-19.9],[-13.5,-19.9],[-12.4,-19.9],[-10.4,-19.9],[-10,-19.9],[-22.6,-20.3],[-21.6,-20.3],[-20.5,-20.3],[-20,-20.3],[-19.2,-20.3],[-17.8,-20.3],[-17,-20.3],[-16.1,-20.3],[-15,-20.3],[-12.8,-20.3],[-12.1,-20.3],[-10.9,-20.3],[-9.1,-20.3],[-7.4,-20.3],[-22.7,-20.8],[-21.8,-20.8],[-21.3,-20.8],[-19.7,-20.8],[-19,-20.8],[-17.2,-20.8],[-16.7,-20.8],[-15.9,-20.8],[-15.3,-20.8],[-13.2,-20.8],[-12.1,-20.8],[-11,-20.8],[-9.2,-20.8],[-8.6,-20.8],[-7.4,-20.8],[-6.5,-20.8],[-6,-20.8],[-21.4,-21.3],[-20.7,-21.3],[-20,-21.3],[-18.9,-21.3],[-17.9,-21.3],[-17,-21.3],[-16.3,-21.3],[-15.6,-21.3],[-14.4,-21.3],[-13,-21.3],[-12,-21.3],[-10.3,-21.3],[-9.6,-21.3],[-8.4,-21.3],[-7.3,-21.3],[-6.5,-21.3],[-5.5,-21.3],[-22.6,-21.6],[-20.2,-21.6],[-19.4,-21.6],[-17.9,-21.6],[-15.2,-21.6],[-13.4,-21.6],[-12.7,-21.6],[-11.7,-21.6],[-11,-21.6],[-9.2,-21.6],[-7.6,-21.6],[-7,-21.6],[-6.1,-21.6],[-21.9,-22.1],[-21,-22.1],[-19.5,-22.1],[-18.7,-22.1],[-17.3,-22.1],[-16.8,-22.1],[-15.9,-22.1],[-15,-22.1],[-13.7,-22.1],[-12.3,-22.1],[-11.6,-22.1],[-10.6,-22.1],[-9.6,-22.1],[-8.9,-22.1],[-7.6,-22.1],[-6.9,-22.1],[-6,-22.1],[-21.2,-22.6],[-20.4,-22.6],[-19.4,-22.6],[-18.1,-22.6],[-16.6,-22.6],[-15.6,-22.6],[-14.7,-22.6],[-13.8,-22.6],[-12.7,-22.6],[-12.2,-22.6],[-11.2,-22.6],[-10.2,-22.6],[-9.1,-22.6],[-8,-22.6],[-7.2,-22.6],[-5.5,-22.6],[-5,-22.6],[-23,-23],[-21.4,-23],[-20.5,-23],[-18.9,-23],[-17.4,-23],[-15.8,-23],[-15.4,-23],[-14,-23],[-13.3,-23],[-12.6,-23],[-11.9,-23],[-10.7,-23.1],[-10.1,-23],[-8.9,-23],[-7.7,-23],[-6.9,-23],[-6.3,-23],[-5.3,-23],[-21.3,-23.4],[-20.4,-23.4],[-20,-23.4],[-19,-23.4],[-17.3,-23.4],[-15.4,-23.4],[-14.6,-23.4],[-13.9,-23.4],[-13.2,-23.4],[-12.2,-23.4],[-11.5,-23.4],[-10.5,-23.4],[-9.4,-23.4],[-8.3,-23.4],[-7.6,-23.4],[-7.1,-23.4],[-5.4,-23.4],[-17.9,-23.9],[-17,-23.9],[-15.2,-23.9],[-14.8,-23.9],[-13.3,-23.9],[-12.8,-23.9],[-11.9,-23.9],[-10.8,-23.9],[-9.4,-23.9],[-8.6,-23.9],[-7.2,-23.9],[-19.7,-24.3],[-19.3,-24.3],[-15.7,-24.3],[-14.9,-24.3],[-14,-24.3],[-13.4,-24.3],[-12.8,-24.3],[-12,-24.3],[-11.4,-24.3],[-9.5,-24.3],[-8.9,-24.3],[-8.3,-24.3],[-7.6,-24.3],[-19.9,-24.6],[-19.6,-24.6],[-15.9,-24.6],[-15.6,-24.6],[-14.9,-24.6],[-14.4,-24.6],[-13.2,-24.6],[-12.3,-24.6],[-10.5,-24.6],[-9.8,-24.6],[-8.2,-24.6],[-15.6,-25],[-15,-25],[-13.8,-25],[-13.3,-25],[-12.1,-25],[-11.4,-25],[-10.6,-25],[-15.4,-25.4],[-14,-25.4],[-13.5,-25.4],[-13,-25.4],[-12.3,-25.4],[-11.2,-25.4],[-14.7,-25.8],[-14.2,-25.8],[-13.8,-25.8],[-13.3,-25.8],[-10.3,-25.8],[-14.8,-29.2],[-14,-29],[-14.4,-28.8]]
const c5 = [[-6.4,-15.7],[-6.6,-15.9],[-7,-16.3],[-6.7,-16.6],[-6.3,-15.6],[-6.7,-16.2],[-4.7,-17],[-4.3,-17.2],[-4.1,-17.4],[-3.9,-17.2],[-4.1,-17.8],[-3.5,-18.3],[-3.3,-18.8],[-3.6,-18.6],[-1.4,-20.3],[-1,-20.6],[-0.8,-20.7],[-1.4,-20.9],[-1.2,-20.5],[0.2,-23.1],[-2.4,-22.7],[0.5,-29.1],[-4.7,-23],[-4.3,-23],[-3.7,-23.1],[-1.9,-23],[-1.1,-23],[2.6,-22.5],[2.9,-22.8],[-4.8,-23.5],[-2.4,-23.4],[2.9,-23.5],[3.5,-23.4],[-4.1,-24],[-2.7,-24],[-1.8,-23.9],[-0.6,-24],[1.6,-24],[2.2,-23.9],[2.9,-24],[4,-23.9],[-4.9,-24.3],[-3.2,-24.3],[-1.7,-24.4],[-1.2,-24.3],[1.4,-24.3],[2.5,-24.5],[3.1,-24.3],[3.5,-24.4],[-4.8,-24.9],[-3.7,-24.9],[-2.3,-24.9],[-0.5,-24.9],[0.3,-25],[0.7,-24.9],[2.2,-25],[2.9,-25],[-3.3,-25.2],[-2.9,-25.3],[-1.6,-25.3],[-1,-25.3],[-0.5,-25.2],[0.4,-25.3],[1,-25.2],[2,-25.3],[3.3,-25.2],[-5.4,-25.7],[-3.9,-25.7],[-2.1,-25.7],[-4.3,-26],[-3.8,-26],[-1,-26],[0.6,-25.8],[-5.8,-26],[-5.2,-26],[-3.8,-26.1],[-1,-26.1],[-0.2,-26],[0.6,-26],[1.5,-26],[2.8,-26],[-3.8,-26.4],[-3.1,-26.4],[-1.8,-26.4],[-0.4,-26.5],[1.2,-26.4],[-5.6,-27],[-5.2,-27.1],[-3.1,-27],[-2.3,-27.1],[-1.2,-27],[0.6,-27],[-0.5,-27.2],[-4.9,-27.4],[-4.3,-27.4],[-3,-27.4],[-2.8,-27.6],[-2.8,-27.7],[-4.7,-27.5],[-2.4,-27.6],[1,-25.6],[1.6,-25.5],[1.9,-24.7],[2.3,-24.6],[2.7,-24.2],[3.2,-23.8],[2.1,-25.9],[2.5,-25.6],[2.4,-23.2],[3.6,-24],[1.7,-24.7],[1.4,-25],[-16.9,-26.4],[-17.5,-26.2],[-16.2,-26.8],[-15.6,-26.8],[-15.9,-26.7],[-15.4,-27],[-15.7,-27],[-16,-26.9],
  [3.3,-23],[3.1,-23.1],[2.1,-23.6],[2.5,-23.6],[3.4,-23.6],[3.9,-23.6],[1.8,-24.2],[2.3,-24.2],[2.8,-24.2],[3.3,-24.2],[3.7,-24.2],[0.8,-24.7],[1.5,-24.7],[2.6,-24.7],[3,-24.7],[3.3,-24.7],[1.7,-25.1],[2.5,-25.1],[0.3,-25.5],[1.2,-25.5],[2,-25.5],[2.4,-25.5],[1.9,-25.9],[2.2,-25.9],[-4.6,-24.6],[-3.1,-24.6],[-2.5,-24.6],[-1.2,-24.6],[-0.2,-24.6],[-5,-25.6],[-3.5,-25.6],[-3,-25.6],[-1.3,-25.6],[-0.7,-25.6],[0.1,-25.6],[-5.4,-26.7],[-3.1,-26.7],[-2.9,-26.7],[-2.7,-26.7],[-4.8,-26.9],[-2.9,-26.9],[-2.5,-26.9],[-2.6,-27.2],[-2.9,-27.2],[-4.1,-27.2]]
const c6 = [[0,40.5],[0.7,40.8],[1.2,40.4],[3.1,40.6],[3.3,40.6],[-0.3,40.2],[0.3,40.1],[0.8,40.3],[1.5,40.2],[-0.8,39.8],[-0.4,39.7],[0.2,39.9],[0.7,39.7],[1.1,39.8],[2.7,39.7],[-1.4,39.3],[-0.9,39.2],[0.6,39.3],[1.2,39.4],[1.7,39.2],[4.2,39.4],[4.3,39.1],[4.7,39.2],[5.5,39.4],[6.1,39.3],[-2.2,38.7],[-1.4,38.8],[-0.8,38.6],[-0.3,38.7],[0.5,38.8],[1.1,38.6],[1.6,38.7],[2.4,38.6],[3.4,38.8],[4.6,38.6],[5,38.8],[5.8,38.7],[6.2,38.6],[-1.6,38],[-0.9,38.1],[0.2,38],[0.9,37.9],[1.8,38.1],[2.2,38],[3.7,38.1],[4.3,37.9],[5.2,38],[5.9,38.1],[6.3,37.9],[7.2,38.1],[-1.5,37.6],[-0.1,37.5],[0.5,37.7],[1.5,37.6],[2,37.5],[4.1,37.6],[4.9,37.5],[6.5,37.6],[7.3,37.5],[-2.9,37.1],[-1.6,37],[-0.3,36.9],[0.2,37.1],[0.8,37],[1.6,36.9],[2.5,37],[3.6,36.9],[4.9,37.1],[5.7,37],[6.3,36.9],[7,37.1],[-3,36.4],[-2.6,36.2],[-2.1,36.3],[-1.5,36.4],[-0.5,36.3],[0.2,36.2],[1.9,36.4],[2.7,36.3],[3.2,36.2],[4.7,36.3],[6.3,36.4],[6.9,36.2],[7.4,36.3],[7.9,36.4],[8.3,36.2],[8.7,36.3],[-2.3,35.9],[-1.7,35.8],[-0.3,35.9],[0.7,35.8],[2.4,35.9],[3.4,35.8],[4.8,35.9],[5.4,35.8],[7.3,35.9],[7.9,35.8],[9,35.9],[-2.5,35.2],[-1.5,35.3],[-0.3,35.1],[0.8,35.2],[2.4,35.1],[3.2,35.3],[4.1,35.2],[4.5,35.1],[5.2,35.3],[6.5,35.2],[7.4,35.1],[8.1,35.3],[9.1,35.2],[-2.1,34.6],[-1.7,34.5],[-1,34.7],[1,34.6],[1.6,34.5],[3.3,34.7],[4,34.6],[4.8,34.5],[6.3,34.6],[8.3,34.7],[8.7,34.5],[9.4,34.6],[-1.8,34],[-0.6,34.1],[0.3,33.9],[1,34],[1.8,34.1],[2.4,33.9],[3.6,34],[4.1,34.1],[4.9,33.9],[6.1,34],[8.1,34.1],[8.5,33.9],[9.6,34],[-2.4,33.5],[-1.1,33.6],[-0.4,33.4],[2.4,33.5],[3,33.6],[4,33.4],[4.6,33.5],[5.4,33.6],[6,33.4],[8,33.5],[9.7,33.6],[-3.4,32.9],[-2.7,33],[-1.7,32.8],[-1.3,32.9],[-0.6,33],[2.8,32.9],[3.7,32.8],[4.7,33],[5.7,32.9],[7.1,32.8],[8.1,33],[9.3,32.9],[-2.6,32.3],[-1.7,32.4],[-0.5,32.2],[0.8,32.3],[1.5,32.4],[2.7,32.2],[4.3,32.3],[4.6,32.4],[7.1,32.2],[7.9,32.3],[8.6,32.4],[-3.2,31.8],[-2.4,31.9],[-0.3,31.7],[0.3,31.8],[2,31.9],[2.6,31.7],[3.4,31.8],[4.4,31.9],[5.9,31.7],[6.3,31.8],[7.4,31.9],[8.3,31.7],[-2.4,31.2],[-1.4,31.3],[-1,31.1],[1.3,31.2],[2.7,31.3],[3.4,31.1],[4.1,31.2],[4.8,31.3],[7.4,31.2],[0.2,30.6],[0.7,30.7],[2.7,30.5],[3.5,30.6],[4.3,30.7],[5.4,30.5],[5.7,30.6],[6.7,30.7],[7.4,30.5],[7.9,30.6],[8.6,30.7],[9.1,30.5],[-2,30.1],[-1.6,30],[-1,30.2],[0.5,30.1],[0.9,30],[2.6,30.2],[3.6,30.1],[4.3,30],[6.4,30.1],[7.5,30.2],[-1.7,29.5],[-1,29.6],[-0.2,29.4],[1.1,29.5],[2.4,29.6],[3.3,29.4],[4,29.5],[5,29.6],[5.6,29.4],[7,29.5],[7.4,29.6],[7.8,29.4],[-0.2,28.8],[0.5,28.9],[1.2,28.7],[2.5,28.8],[3.1,28.9],[3.6,28.7],[4.6,28.8],[0.4,28.4],[1.7,28.5],[2.3,28.3],[2.9,28.4],[3.4,28.5],[3.9,28.3],[5.5,28.4],[6.5,28.5],[6.9,28.3],[7.6,28.4],[-1,28.1],[0.9,27.6],[2.5,27.7],[3.1,27.5],[5.5,27.6],[5.9,27.7],[6.9,27.5],[8.1,27.6],[8.6,27.7],[1.1,27.1],[2,27.2],[2.4,27],[4.9,27.1],[5.7,27.2],[6.2,27],[7.9,27.1],[8.3,27.2],[9,27],[0.6,26.7],[1,26.8],[1.6,26.6],[2.7,26.7],[3.4,26.8],[4.8,26.6],[5.3,26.7],[6.5,26.8],[7,26.6],[8.1,26.7],[8.5,26.8],[9.2,26.6],[2.8,26.2],[3.9,26.3],[5.2,26.1],[5.9,26.2],[6.3,26.3],[7.9,26.1],[8.5,26.2],[5.5,25.6],[5.9,25.7],[6.4,25.5],[7.4,25.6],[7.9,25.7],[4.7,24.9],[5.5,25],[6,24.8],[6.6,24.9],[6.9,25],[2,24.9],[2.3,24.8],[3,24.9],[2.3,24.5],[3.1,24.5],[4.8,24.5],[5.8,24.6],[6.5,24.4],[0.9,23.5],[1.2,23.6],[0.5,23.2],[0.8,23.3],[6.1,25.2],[5.7,25.3],[6.2,25.9],[8.6,26.5],[-1.6,33],[-1.1,32.6],[0.2,37.4],[-0.1,37],[7.4,35.5],[7.8,35.2],[8.2,33.7],[3.4,29.9],[3.7,29.2],[2.9,29.1],[-2.3,36.2],[-1.7,36.6],[1,39.6],[1.4,38.9],[21.2,18.4],
  [-1.1,39],[-0.6,39],[0.3,39],[0.9,39],[1.4,39],[3.9,39],[4.9,39],[5.9,39],[6.4,39],[-1.8,38.4],[-1,38.4],[-0.5,38.4],[0.1,38.4],[0.8,38.4],[1.3,38.4],[2.1,38.4],[3.7,38.4],[5.3,38.4],[6,38.4],[6.6,38.4],[-1.2,37.8],[-0.5,37.8],[0.4,37.8],[0.8,37.8],[1.3,37.8],[1.7,37.8],[2.3,37.8],[3.3,37.8],[4.6,37.8],[5.5,37.8],[6.1,37.8],[6.9,37.8],[-2.6,37.3],[-1.9,37.3],[-1.1,37.3],[-0.6,37.3],[0.6,37.3],[1.1,37.3],[2.8,37.3],[4.4,37.3],[5.2,37.3],[6.7,37.3],[-2.8,36.7],[-2.3,36.7],[-1.6,36.7],[-0.9,36.7],[-0.1,36.7],[0.5,36.7],[1.2,36.7],[2.2,36.7],[3.1,36.7],[4.2,36.7],[5.6,36.7],[6.6,36.7],[7.7,36.7],[8.2,36.7],[-2.7,36],[-1.9,36],[-1.3,36],[-0.7,36],[0.5,36],[0.2,36],[2.7,36],[3,36],[4.4,36],[5,36],[6.8,36],[7.2,36],[8.2,36],[8.6,36],[9.2,36],[-2,35.5],[-1.2,35.5],[-0.7,35.5],[0.1,35.5],[0.5,35.5],[2.1,35.5],[2.8,35.5],[3.6,35.5],[4.6,35.5],[5.8,35.5],[6.9,35.5],[7.6,35.5],[8.4,35.5],[8.9,35.5],[-2.3,34.9],[-1.6,34.9],[-1.2,34.9],[0.5,34.9],[1.3,34.9],[2.8,34.9],[3.7,34.9],[4.4,34.9],[5,34.9],[6.2,34.9],[7.1,34.9],[8.3,34.9],[8.7,34.9],[9.3,34.9],[-2.2,34.3],[-1.3,34.3],[-0.8,34.3],[0.2,34.3],[0.7,34.3],[1.4,34.3],[2.1,34.3],[3,34.3],[3.9,34.3],[4.4,34.3],[5.6,34.3],[7.3,34.3],[8,34.3],[8.5,34.3],[9,34.3],[-2.7,33.7],[-2,33.7],[-1.5,33.7],[-0.9,33.7],[-0.2,33.7],[0.4,33.7],[1.2,33.7],[3.3,33.7],[4.2,33.7],[4.8,33.7],[5.2,33.7],[7.5,33.7],[8.3,33.7],[8.9,33.7],[-3.1,33.2],[-2.3,33.2],[-1.9,33.2],[-1.4,33.2],[-0.8,33.2],[-0.3,33.2],[0.3,33.2],[2.6,33.2],[3.1,33.2],[4.3,33.2],[5.1,33.2],[8.4,33.2],[8.8,33.2],[-3.4,32.6],[-2.9,32.6],[-2.2,32.6],[-1.4,32.6],[-0.9,32.6],[-0.2,32.6],[0.3,32.6],[2.3,32.6],[3.2,32.6],[4.2,32.6],[5,32.6],[7.5,32.6],[8.3,32.6],[8.8,32.6],[-3,32],[-2.7,32],[-2.2,32],[-1.5,32],[0,32],[1.1,32],[2.3,32],[3,32],[3.7,32],[4.8,32],[6.6,32],[7.7,32],[8,32],[-2.8,31.5],[-2.1,31.5],[-1.7,31.5],[-0.5,31.5],[2.3,31.5],[3,31.5],[3.8,31.5],[4.6,31.5],[5.6,31.5],[6.8,31.5],[8,31.5],[8.7,31.5],[-1.6,31],[-1.2,31],[2.2,31],[3,31],[3.6,31],[4.4,31],[5,31],[7,31],[7.8,31],[-1.4,30.4],[-0.3,30.4],[0.4,30.4],[1.1,30.4],[2.5,30.4],[3,30.4],[3.4,30.4],[4,30.4],[4.7,30.4],[6.3,30.4],[7,30.4],[8,30.4],[8.8,30.4],[9.3,30.4],[-1.8,29.8],[-1.3,29.8],[-0.7,29.8],[0.7,29.8],[1.4,29.8],[2.9,29.8],[3.4,29.8],[3.9,29.8],[4.6,29.8],[6.9,29.8],[7.3,29.8],[7.9,29.8],[-0.3,29.2],[0.2,29.2],[0.8,29.2],[1.5,29.2],[2.2,29.2],[2.7,29.2],[3.1,29.2],[3.6,29.2],[4.3,29.2],[5.2,29.2],[5.9,29.2],[7.4,29.2],[0.6,28.6],[1.1,28.6],[2.6,28.6],[3.1,28.6],[3.5,28.6],[4.1,28.6],[1.1,28],[1.7,28],[2.4,28],[3,28],[3.3,28],[5.6,28],[6.2,28],[7.1,28],[8,28],[8.4,28],[1,27.3],[1.4,27.3],[2.2,27.3],[2.9,27.3],[5.2,27.3],[5.9,27.3],[6.6,27.3],[7.6,27.3],[8.5,27.3],[9,27.3],[0.8,26.9],[1.4,26.9],[1.9,26.9],[2.6,26.9],[3.1,26.9],[5.5,26.9],[6,26.9],[7.9,26.9],[8.3,26.9],[8.9,26.9],[4.9,26.4],[5.5,26.4],[6.1,26.4],[6.7,26.4],[8.2,26.4],[8.8,26.4],[5.3,25.9],[5.7,25.9],[6,25.9],[6.3,25.9],[6.6,25.9],[7.1,25.9],[7.7,25.9],[8.2,25.9],[4.9,25.3],[5.2,25.3],[5.5,25.3],[5.9,25.3],[6.3,25.3],[6.5,25.3],[7.2,25.3]]
const c7 = [[17.5,1.9],[20.9,1.7],[21.9,1.6],[23,1.2],[22,1],[22,0.8],[16.4,1.2],[18,0.7],[19.9,0.7],[20.9,0.8],[21.6,0.9],[22.6,0.8],[14.5,0.4],[16.3,0.4],[18,0.4],[18.8,0.5],[19.8,0.4],[21.9,0.3],[21.4,0.5],[10.5,-0.1],[10.9,0],[11.7,-0.1],[12.2,0],[19,-0.1],[19.4,-0.1],[20.2,-0.1],[14.5,-0.5],[15.1,-0.6],[16.5,-0.5],[17.5,-0.4],[20.7,-0.5],[22.7,-0.5],[23,-0.6],[22.4,-0.4],[10.7,-1],[11.3,-1],[12.2,-1],[15.7,-1],[17.6,-1.1],[19,-1],[20.5,-1.1],[22.1,-1],[24.9,-1],[12.6,-1.4],[13,-1.4],[13.8,-1.4],[14.8,-1.5],[16.5,-1.4],[17.5,-1.4],[20,-1.5],[22.4,-1.4],[11.9,-1.8],[12.5,-1.9],[15.1,-1.8],[16.2,-1.9],[18.9,-1.8],[21.8,-1.8],[23.7,-1.9],[24.1,-1.8],[12,-2.2],[13,-2.2],[14.7,-2.3],[16.2,-2.2],[17.6,-2.3],[19.9,-2.2],[22.8,-2.3],[25.2,-2.3],[12.5,-2.7],[14.1,-2.6],[14.8,-2.8],[17.9,-2.7],[19.6,-2.7],[20.8,-2.6],[21.3,-2.7],[23.6,-2.7],[25.5,-2.7],[13.2,-3.2],[14.1,-3.1],[15.7,-3.2],[17,-3.1],[18.3,-3.2],[18.9,-3.1],[20.7,-3.2],[13.3,-3.6],[15.7,-3.6],[16.5,-3.7],[18.3,-3.6],[20,-3.7],[21.3,-3.6],[22.2,-3.7],[23.1,-3.6],[24.3,-3.7],[26.2,-3.6],[11.5,-4.1],[12.3,-4.1],[16.4,-4.1],[17,-4.2],[18.4,-4.1],[19.1,-4.2],[20.2,-4.1],[21.8,-4.1],[22.6,-4.2],[13.5,-4.5],[15,-4.5],[18.7,-4.5],[25,-4.5],[27.2,-4.5],[19.8,-4.9],[20.2,-4.9],[20.7,-5],[21.9,-4.9],[22.4,-4.9],[11.5,-5.2],[12.3,-5.2],[14.1,-5.2],[15.8,-5.2],[17,-5.3],[17.4,-5.2],[24.9,-5.2],[26.1,-5.2],[10.7,-5.7],[13.5,-5.7],[17.2,-5.7],[17.9,-5.8],[18.3,-5.7],[21.2,-5.7],[22.8,-5.7],[23.7,-5.7],[26.2,-5.7],[27.3,-5.7],[13.4,-6.1],[15.1,-6.2],[20.8,-6.1],[24.1,-6.2],[24.8,-6.1],[11.4,-6.6],[12,-6.6],[12.6,-6.6],[14.5,-6.6],[16.3,-6.7],[18.5,-6.6],[18.7,-6.7],[20.4,-6.6],[22.1,-6.6],[23.5,-6.7],[25.3,-6.6],[27.3,-6.6],[11.2,-7.1],[15,-7.1],[17.6,-7.1],[19.6,-7.2],[21.1,-7.1],[22.6,-7.1],[23.9,-7.1],[26.4,-7.1],[27.9,-7.1],[12.5,-7.5],[13.1,-7.5],[14.7,-7.4],[16.1,-7.5],[17.2,-7.4],[18,-7.5],[18.9,-7.4],[21.3,-7.5],[22.7,-7.4],[24.4,-7.5],[26.2,-7.5],[26.9,-7.4],[11.5,-7.9],[12.5,-8],[16.1,-8],[17,-7.9],[19.8,-8],[20.7,-7.9],[22.4,-8],[23.3,-7.9],[28,-7.9],[13.8,-8.3],[14.9,-8.4],[15.9,-8.3],[17.4,-8.3],[18.8,-8.4],[20.1,-8.3],[21.4,-8.4],[23.4,-8.3],[24.4,-8.4],[25.5,-8.3],[14.3,-8.8],[14.8,-8.8],[17,-8.8],[19.6,-8.8],[24.7,-9.6],[15.3,-9.2],[17.8,-9.2],[20.7,-9.2],[19.4,-9.3],[21.7,-9.2],[23.3,-9.2],[25.1,-9.3],[27.6,-9.2],[29.2,-9.2],[14.8,-9.7],[16.2,-9.8],[17.5,-9.7],[19.6,-9.7],[21.3,-9.8],[25,-9.8],[28.1,-9.7],[28.6,-9.8],[13.4,-10],[17,-10],[18,-10],[25.4,-10],[29.2,-10],[13.5,-10.4],[16.6,-10.4],[18,-10.4],[20.2,-10.5],[20.7,-10.4],[22.3,-10.4],[23.5,-10.5],[24.1,-10.4],[25.8,-10.4],[27.3,-10.5],[15.4,-10.9],[18,-10.9],[19.2,-10.9],[20.9,-10.9],[19.8,-11],[23.9,-10.9],[24.9,-11],[15.2,-11.3],[16.6,-11.3],[18.9,-11.3],[19.6,-11.3],[24.2,-11.3],[26.2,-11.3],[13.5,-11.8],[13.8,-11.8],[17.2,-11.8],[17.7,-11.8],[20,-11.9],[21.1,-11.8],[22,-11.8],[23,-11.8],[26.2,-11.8],[27.2,-11.8],[28.6,-11.8],[15.1,-12.2],[16.6,-12.3],[23.7,-12.2],[25.2,-12.3],[28,-12.2],[15.8,-12.6],[16.1,-12.6],[18.3,-12.6],[18.7,-12.6],[20.7,-12.6],[21.5,-12.6],[24,-12.6],[24.3,-12.6],[15,-13],[16.4,-13],[17.8,-13],[20.4,-13],[24.1,-13],[27.2,-13],[28.7,-13],[29.8,-13],[30.2,-13],[30.7,-13],[31.4,-13],[15.6,-13.4],[18.3,-13.4],[20.2,-13.4],[21.9,-13.4],[22.5,-13.4],[25.4,-13.4],[26.1,-13.4],[15,-14],[17,-14],[17.5,-14],[18.5,-14],[21.2,-14],[24.6,-14],[27.8,-14],[28.6,-14],[30,-14],[30.4,-14],[31,-14],[14.9,-14.3],[15.8,-14.3],[18.3,-14.4],[17.1,-14.3],[16,-14.9],[18,-14.6],[18.3,-14.6],[20.2,-14.6],[21.4,-14.6],[23.3,-14.6],[25.2,-14.7],[26.7,-14.6],[31.7,-14.6],[15.4,-15],[19.4,-15],[20.1,-15],[21.4,-15.1],[22.4,-15.1],[23.9,-15],[17,-15.4],[18.4,-15.4],[19.6,-15.4],[20.4,-15.4],[21.5,-15.4],[23.9,-15.4],[25,-15.4],[26,-15.4],[28.5,-15.4],[29.7,-15.4],[22.8,-15.8],[17,-16.1],[17.7,-16.1],[18.4,-16.1],[19.4,-16.1],[20.2,-16.1],[21.5,-16.1],[25.6,-16.3],[26.9,-16.3],[30.1,-16.3],[22.4,-16.7],[23.2,-16.7],[18.7,-17.2],[20.9,-17.2],[25.3,-17.2],[26.5,-17.2],[28,-17.2],[28.7,-17.2],[29.1,-17.2],[26,-17.6],[26.9,-17.6],[-2.1,-6.9],[-1.9,-6.9],[8.1,-4.5],[10,-2.6],[8.8,-9.8],[9.8,-9.2],[10.7,-6],[10.5,0.4],[10.9,0],[19.2,6.6],[31.7,-14.2],[31.7,-14.7],[28.6,-16.8],[27.8,-16.9],[27.9,-15.9],[16.5,-1.3],[14.6,-5.8],[25.8,-9.9],[25.8,-10.8],[26,-11.9],[25.7,-12.8],[28.4,-15],[28.1,-14.5],[22.3,-3.2],[21.8,-3.6],[23.2,-4.3],[20.5,-1.9],[14.3,-4.1],[14.7,-4.4],
  [15.9,0.6],[21.7,0.6],[15.4,-0.2],[16.9,-0.2],[18.5,-0.2],[21.1,-0.2],[22.6,-0.2],[11.2,-0.7],[13.6,-0.7],[15.4,-0.7],[16.1,-0.7],[17.9,-0.7],[18.7,-0.7],[19.6,-0.7],[20.2,-0.7],[21.2,-0.7],[21.8,-0.7],[23.3,-0.7],[23.6,-0.7],[24.5,-0.7],[13.2,-1.2],[14.2,-1.2],[15.2,-1.2],[16.2,-1.2],[17,-1.2],[18.3,-1.2],[19.4,-1.2],[20.9,-1.2],[21.7,-1.2],[23.4,-1.2],[11.4,-1.6],[13.4,-1.6],[14.4,-1.6],[15.4,-1.6],[16.9,-1.6],[17.9,-1.6],[18.5,-1.6],[20.4,-1.6],[21.3,-1.6],[23,-1.6],[24.5,-1.6],[12.9,-2],[13.7,-2],[14.3,-2],[15.5,-2],[17.2,-2],[18.5,-2],[19.5,-2],[20.2,-2],[21,-2],[22,-2],[22.4,-2],[23.3,-2],[24.7,-2],[11.2,-2.5],[13.3,-2.5],[13.7,-2.5],[15.7,-2.5],[16.8,-2.5],[18.2,-2.5],[18.9,-2.5],[20.2,-2.5],[21.5,-2.5],[22.3,-2.5],[24.2,-2.5],[24.9,-2.5],[11.6,-3],[12.3,-3],[14.9,-3],[15.9,-3],[16.4,-3],[17.5,-3],[19,-3],[19.9,-3],[20.2,-3],[21.8,-3],[22.9,-3],[23.3,-3],[24.6,-3],[25,-3],[11.2,-3.4],[11.9,-3.4],[12.9,-3.4],[14.5,-3.4],[15,-3.4],[16.6,-3.4],[17.4,-3.4],[19.5,-3.4],[20.3,-3.4],[21,-3.4],[22,-3.4],[22.6,-3.4],[24,-3.4],[25.1,-3.4],[13.6,-3.9],[15.3,-3.9],[17.8,-3.9],[18.9,-3.9],[19.5,-3.9],[20.8,-3.9],[21.4,-3.9],[23.4,-3.9],[24.9,-3.9],[25.4,-3.9],[13,-4.3],[15.6,-4.3],[15.9,-4.3],[17.4,-4.3],[19.9,-4.3],[20.6,-4.3],[21.3,-4.3],[22.9,-4.3],[24.5,-4.3],[25.5,-4.3],[26.1,-4.3],[11,-4.8],[12.8,-4.8],[16.7,-4.8],[17.8,-4.8],[18.2,-4.8],[19.2,-4.8],[21,-4.8],[22.9,-4.8],[23.4,-4.8],[24.4,-4.8],[25.4,-4.8],[26.4,-4.8],[14.8,-5.5],[15.3,-5.5],[16.4,-5.5],[18.7,-5.5],[19.4,-5.5],[20.1,-5.5],[21.6,-5.5],[22.2,-5.5],[24.3,-5.5],[25.6,-5.5],[26.8,-5.5],[11.6,-6],[12.4,-6],[14,-6],[14.9,-6],[16,-6],[17,-6],[18.2,-6],[19.2,-6],[21.5,-6],[22.2,-6],[23,-6],[25.2,-6],[26.6,-6],[27,-6],[10.9,-6.4],[12,-6.4],[15.5,-6.4],[17.2,-6.4],[17.9,-6.4],[19.7,-6.4],[20,-6.4],[21.2,-6.4],[22.7,-6.4],[23.6,-6.4],[25.9,-6.4],[26.5,-6.4],[12.8,-6.9],[13.7,-6.9],[14.6,-6.9],[16.8,-6.9],[18.1,-6.9],[19,-6.9],[20.8,-6.9],[21.5,-6.9],[23.2,-6.9],[24.4,-6.9],[25.7,-6.9],[26.6,-6.9],[13.9,-7.7],[14.4,-7.7],[15.4,-7.7],[17.6,-7.7],[18.5,-7.7],[20,-7.7],[21,-7.7],[22,-7.7],[22.9,-7.7],[23.9,-7.7],[25.5,-7.7],[27.4,-7.7],[28.4,-7.7],[15.2,-8.6],[16.6,-8.6],[18.3,-8.6],[20.6,-8.6],[21.8,-8.6],[23.8,-8.6],[25.1,-8.6],[27.5,-8.6],[28.3,-8.6],[16.5,-9],[18.7,-9],[22.2,-9],[24,-9],[26,-9],[28.6,-9],[14.7,-9.5],[15.6,-9.5],[17,-9.5],[18.2,-9.5],[21,-9.5],[22.8,-9.5],[24,-9.5],[25.4,-9.5],[26.2,-9.5],[27.4,-9.5],[28.3,-9.5],[15.4,-10.2],[16.2,-10.2],[18.6,-10.2],[19.8,-10.2],[21.7,-10.2],[22.6,-10.2],[24.5,-10.2],[26.6,-10.2],[28.7,-10.2],[14.9,-10.7],[15.7,-10.7],[18.5,-10.7],[21.4,-10.7],[22.9,-10.7],[24.4,-10.7],[26.4,-10.7],[27.8,-10.7],[28.9,-10.7],[16.1,-11.1],[17.4,-11.1],[18.5,-11.1],[21.6,-11.1],[22.3,-11.1],[25.4,-11.1],[26.8,-11.1],[27.6,-11.1],[28.4,-11.1],[14.9,-11.5],[16,-11.5],[18.2,-11.5],[20.8,-11.5],[22.5,-11.5],[23.4,-11.5],[25.2,-11.5],[26.6,-11.5],[27.6,-11.5],[29,-11.5],[15.4,-12],[16.9,-12],[18.2,-12],[19.2,-12],[20.6,-12],[24.5,-12],[25.6,-12],[27.5,-12],[29.1,-12],[14.8,-12.4],[16.3,-12.4],[17.7,-12.4],[19.7,-12.4],[21.1,-12.4],[22.5,-12.4],[24.9,-12.4],[25.9,-12.4],[26.8,-12.4],[27.5,-12.4],[28.4,-12.4],[15.6,-12.8],[17.2,-12.8],[19.4,-12.8],[20.1,-12.8],[22.6,-12.8],[23.4,-12.8],[25.3,-12.8],[26.5,-12.8],[28.1,-12.8],[29.3,-12.8],[14.8,-13.2],[17,-13.2],[18.7,-13.2],[19,-13.2],[21.3,-13.2],[23,-13.2],[24.8,-13.2],[25.8,-13.2],[26.6,-13.2],[27.9,-13.2],[28.3,-13.2],[29.1,-13.2],[16,-13.7],[17.8,-13.7],[18.9,-13.7],[21.7,-13.7],[23,-13.7],[24,-13.7],[25.2,-13.7],[26.6,-13.7],[28.3,-13.7],[29.3,-13.7],[15.4,-14.1],[18,-14.1],[18.8,-14.1],[20.4,-14.1],[22,-14.1],[22.8,-14.1],[25.2,-14.1],[26.4,-14.1],[27,-14.1],[29,-14.1],[19,-14.5],[20.5,-14.5],[22,-14.5],[24.6,-14.5],[26.2,-14.5],[27.4,-14.5],[28.2,-14.5],[28.9,-14.5],[16.4,-15.3],[18.7,-15.3],[21,-15.3],[22.9,-15.3],[25.6,-15.3],[26.6,-15.3],[27.2,-15.3],[28,-15.3],[29,-15.3],[17.7,-15.7],[18.9,-15.7],[21,-15.7],[21.9,-15.7],[24.6,-15.7],[25.6,-15.7],[26.9,-15.7],[28.5,-15.7],[29.3,-15.7],[18.7,-16.5],[20.8,-16.5],[21.4,-16.5],[24.4,-16.5],[25.8,-16.5],[27.4,-16.5],[28.1,-16.5],[28.8,-16.5],[17.2,-16.9],[18.1,-16.9],[19.1,-16.9],[24.9,-16.9],[26.3,-16.9],[27,-16.9],[24.9,-16],[25.8,-16],[27.2,-16]]
const c8 = [[19.6,11.7],[20.1,11.3],[18.3,11],[17.7,11],[19.9,10.9],[20.8,11],[15.8,10.4],[17.1,10.4],[17.6,10.5],[18.3,10.4],[20,10.3],[20.6,10.5],[21,10.4],[22.1,10.4],[22.4,10.4],[17.2,9.8],[17.8,9.8],[18.5,9.7],[19.5,9.8],[20.2,9.7],[20.9,9.8],[16.5,9.3],[17,9.3],[17.6,9.3],[18.9,9.4],[19.3,9.2],[21.2,9.3],[15.2,8.8],[16.7,8.9],[17.4,8.7],[18.5,8.9],[19,8.8],[20.1,8.7],[21.4,8.8],[16.2,8.4],[17.2,8.4],[18.3,8.4],[18.9,8.3],[20.9,8.4],[19.4,8.1],[20.2,8],[20.5,8],[21.1,8],[21.7,8],[15.8,7.7],[16.4,7.7],[17.5,7.6],[18.5,7.7],[16.5,7.3],[17.2,7.2],[17.8,7.3],[18.7,7.2],[13.7,7],[14.1,6.9],[18.4,7],[14.6,6.9],[12.8,6.7],[13.5,6.7],[14.5,6.6],[15.9,6.7],[17.4,6.6],[18.2,6.7],[13.5,6.2],[13.8,6.1],[15.4,6.2],[16.3,6.3],[17.6,6],[18.5,6],[19.1,6.1],[15.3,5.4],[16.2,5.5],[15.3,5],[16,5],[17.2,5],[17.8,5],[18.4,5.1],[16.6,4.5],[17.2,4],[17.4,3.2],[20.5,3.2],[14.8,2.7],[15.8,2.7],[18.4,2.7],[20.9,2.8],[15.4,2.4],[18.3,2.5],[11.2,8.9],[13,7],[13.2,6.9],[17.3,8.6],[17.9,8.2],[17.4,7.8],[18.1,7.9],[16.9,6.9],[16.2,7],[18.1,6.4],[17,5.7],[19.3,8.7],[19.7,9.2],[18.8,9.2],[18.2,8.8],[20.4,9.2],[19.2,10.2],[17.7,9.9],
  [16.9,10],[17.5,10],[18.2,10],[19.9,10],[20.6,10],[21.2,10],[16.6,9.5],[17.4,9.5],[18.1,9.5],[19,9.5],[19.6,9.5],[20.7,9.5],[16.2,9],[16.8,9],[17.2,9],[17.9,9],[18.9,9],[19.4,9],[19.7,9],[15.8,8.6],[16.4,8.6],[17.9,8.6],[18.6,8.6],[19.3,8.6],[19.8,8.6],[16.8,7.5],[17.8,7.5],[18.2,7.5],[18.9,7.5],[19,7.5],[15.7,6.5],[16.5,6.5],[17.9,6.5],[18.9,6.5],[16.2,7],[17.6,7],[15.4,5.8],[16.7,5.8],[17.7,5.8],[18.7,5.8]]
const c9 = [[-26.4,-4.1],[-26.2,-4.2],[-25.6,-4.1],[-25.2,-4.2],[-24.5,-4.1],[-26.7,-4.7],[-26,-4.7],[-25.3,-4.8],[-24.6,-4.7],[-23.7,-4.7],[-25.1,-5.2],[-24.3,-5.2],[-23.9,-5.1],[-22.6,-5.2],[-25.2,-5.7],[-23.8,-5.6],[-22.1,-5.7],[-27.5,-6],[-26.9,-6.1],[-26.5,-5.9],[-25.3,-6],[-23.4,-6.1],[-25.1,-6.4],[-24.6,-6.5],[-26.1,-6.4],[-26.9,-6.8],[-25.6,-6.9],[-25.9,-7.3],[-24.9,-7.3],[-23,-7.8],[-26.7,-4.3],[-25.9,-4.4],[-25,-4.5],[-24.3,-4.9],[-25.6,-5.3],[-24.6,-5.5],[-24.9,-5.9],[-26.4,-6.2],[-25.9,-5.9],[-24.9,-7],[-26.1,-4.5],[-25.7,-4.6],[-25.2,-4.4],[-24.8,-4.3],[-24.1,-4.5],[-24.6,-5],[-25,-5.5],[-25.3,-5.9],[-25,-6.2],[-25.3,-6.6],[-26.4,-5.8],[-26.8,-6.3],[-26.3,-6.7],[-24.3,-5.5],[-23.9,-5.4],[-23.6,-5.6]]
const c10 = [[-4.6,-28.2],[-4.7,-30.9],[-2.5,-29.1],[-2.3,-29.9],[-2.3,-30.5],[-3.3,-30.9],[-3.1,-31.4],[-3.1,-32.4],[-1.6,-29.5],[-0.8,-29.7],[0.2,-29.8],[-0.1,-30.5],[0.4,-30.5],[1.3,-30.5],[1.3,-30.8],[1.4,-31.4],[1,-32],[0.8,-32.7],[-2.1,-32.1],[-1.7,-30.4],[-1.4,-30.9],[-1.1,-31.2],[-0.8,-30.4],[-0.4,-30.9],[-0.1,-31.4],[-1.9,-31.4],[-1.5,-31.6],[-1.1,-31.8],[-0.7,-31.6],[-0.3,-31.9],[0.1,-32],[-1.4,-32.2],[-1,-32.4],[-0.6,-32.3],[-0.2,-32.5],[-1.5,-32.8],[-1.2,-33],[-0.7,-33],[-0.4,-33.2],[0,-33],[0.3,-33.1],[0.1,-32.8],[1.2,-31.9],[1.1,-32.2],[-2.2,-30.9],[-1,-30.7],[-0.6,-31.1],[-0.9,-32.9],[-1.6,-31],[-1,-31],[-0.3,-31],[-1.3,-31.5],[-0.9,-31.5],[-0.5,-31.5],[-1.6,-32.1],[-1.2,-32.1],[-0.8,-32.1],[-0.4,-32.1],[-1.2,-32.6],[-0.8,-32.6],[-0.4,-32.6],[-0.1,-32.6],[-1.4,-32.9],[-0.5,-32.9],[-0.2,-32.9],[0.2,-32.9],[-1.6,-30],[-0.9,-30],[-1.2,-30],[1.3,-31.8],[1.1,-31.8],[0.9,-32.4],[1.2,-32.4]]
const c11 = [[20.2,22.2],[21.9,22.9],[22.5,22.9],[21.3,22],[22.2,22.5],[21.6,22.2],[21.7,21.8],[21.5,21.2],[21.2,21],[22.2,20.7],[21.3,20.6],[21.4,20.1],[21.4,19.6],[21.3,19.2],[21.3,18.9],[21.9,22.4],[21.6,21.5],[21.8,22.1],[22,22.2],[21.6,22.6],[21.4,20.5],[21.3,19.9],[21.2,19.4],[21.4,19],[21.9,20.7],[21.5,21.7],[21.2,21.6],[21.7,21.1],[21.7,22.4],[21.9,21.9],[22,22.6],[21.5,21.9],[21.5,20.3],[21.4,19.3],[21.2,19.1],[21.4,18.9],[21.8,22.7],[22.2,22.2],[21.6,20.9],[21.3,19.7]]
const c12 = [[-36.2,8.4],[-36,8.5],[-35.8,8.5],[-35.6,8.6],[-35.4,8.6],[-35.4,8.8],[-35.2,8.9],[-35,9],[-35.1,8.6],[-34.9,8.7],[-34.7,9.1],[-34.7,8.8],[-34.5,9.2],[-34.4,9.4],[-34.2,9.7],[-34.4,9.7],[-34.8,9.4],[-35,9.2],[-34.3,8.9],[-34.6,9.5],[-34.1,9.6],[-35.6,8.9]]
const clusters = [c1, c2, c3, c4, c5, c6, c7, c8, c9, c10, c11, c12]

const xTickStep = 20
const yTickStep = 20

// moves the legend to where the reference has it
const legendPlace = {
  id: "legendPlace",
  afterLayout(chart: Chart) {
    const legend = chart.legend
    if (!legend) return
    legend.left = 1260
    legend.right = 1344
    legend.top -= 18
    legend.bottom -= 18
  },
}

export default function App() {
  const chartRef = useRef<HTMLCanvasElement>(null)

  useEffect(() => {
    if (!chartRef.current) return
    const textFont = "'Liberation Sans', Arial, sans-serif"
    const axisBase = (title: string, step: number, min: number, max: number, tickGap: number) => ({
      type: "linear" as const,
      min,
      max,
      ticks: { stepSize: step, includeBounds: false, color: "#000", padding: tickGap, font: { family: textFont, size: 22 }, maxRotation: 0 },
      grid: { drawOnChartArea: false, drawTicks: true, tickLength: 8, tickWidth: 2, tickColor: "#000" },
      border: { display: true, color: "#000", width: 2 },
      title: { display: true, text: title, color: "#000", font: { family: textFont, size: 26 }, padding: { top: 10, bottom: 9 } },
    })
    const chart = new Chart(chartRef.current, {
      type: "scatter",
      data: {
        datasets: clusters.map((points, i) => ({
          label: clusterNames[i],
          data: points.map(([x, y]) => ({ x, y })),
          order: clusters.length - i,
          backgroundColor: `rgba(${clusterColors[i]},0.6)`,
          borderColor: `rgba(${clusterColors[i]},0.6)`,
          borderWidth: 1.2,
          pointRadius: 4.8,
        })),
      },
      options: {
        responsive: false,
        animation: false,
        layout: { padding: { top: 13, right: 27, bottom: 0, left: 0 } },
        plugins: {
          tooltip: { enabled: false },
          legend: {
            position: "right",
            labels: {
              usePointStyle: true,
              pointStyle: "circle",
              boxWidth: 22,
              boxHeight: 6.8,
              padding: 7.2,
              color: "#000",
              font: { family: textFont, size: 22, lineHeight: 1 },
              sort: (a: any, b: any) => a.datasetIndex - b.datasetIndex,
              generateLabels: (c: Chart) =>
                Chart.defaults.plugins.legend.labels.generateLabels(c).map((item: any) => ({ ...item, text: "\u00a0" + item.text })),
            },
          },
        },
        scales: {
          x: {
            ...axisBase("TSNE 1", xTickStep, -39.4, 35.1, 4),
            afterFit: (scale: any) => { scale.height = 79; scale.paddingLeft = 0; scale.paddingRight = 0 },
          },
          y: {
            ...axisBase("TSNE 2", yTickStep, -36.8, 44.5, 5),
            afterFit: (scale: any) => { scale.width = 90; scale.paddingTop = 0; scale.paddingBottom = 0 },
          },
        },
      } as any,
      plugins: [legendPlace],
    })
    return () => chart.destroy()
  }, [])

  return (
    <div style={{ position: "fixed", left: 0, top: 0, width: 1344, height: 960, background: "#fff" }}>
      <canvas ref={chartRef} width={1344} height={960} style={{ display: "block" }} />
    </div>
  )
}
